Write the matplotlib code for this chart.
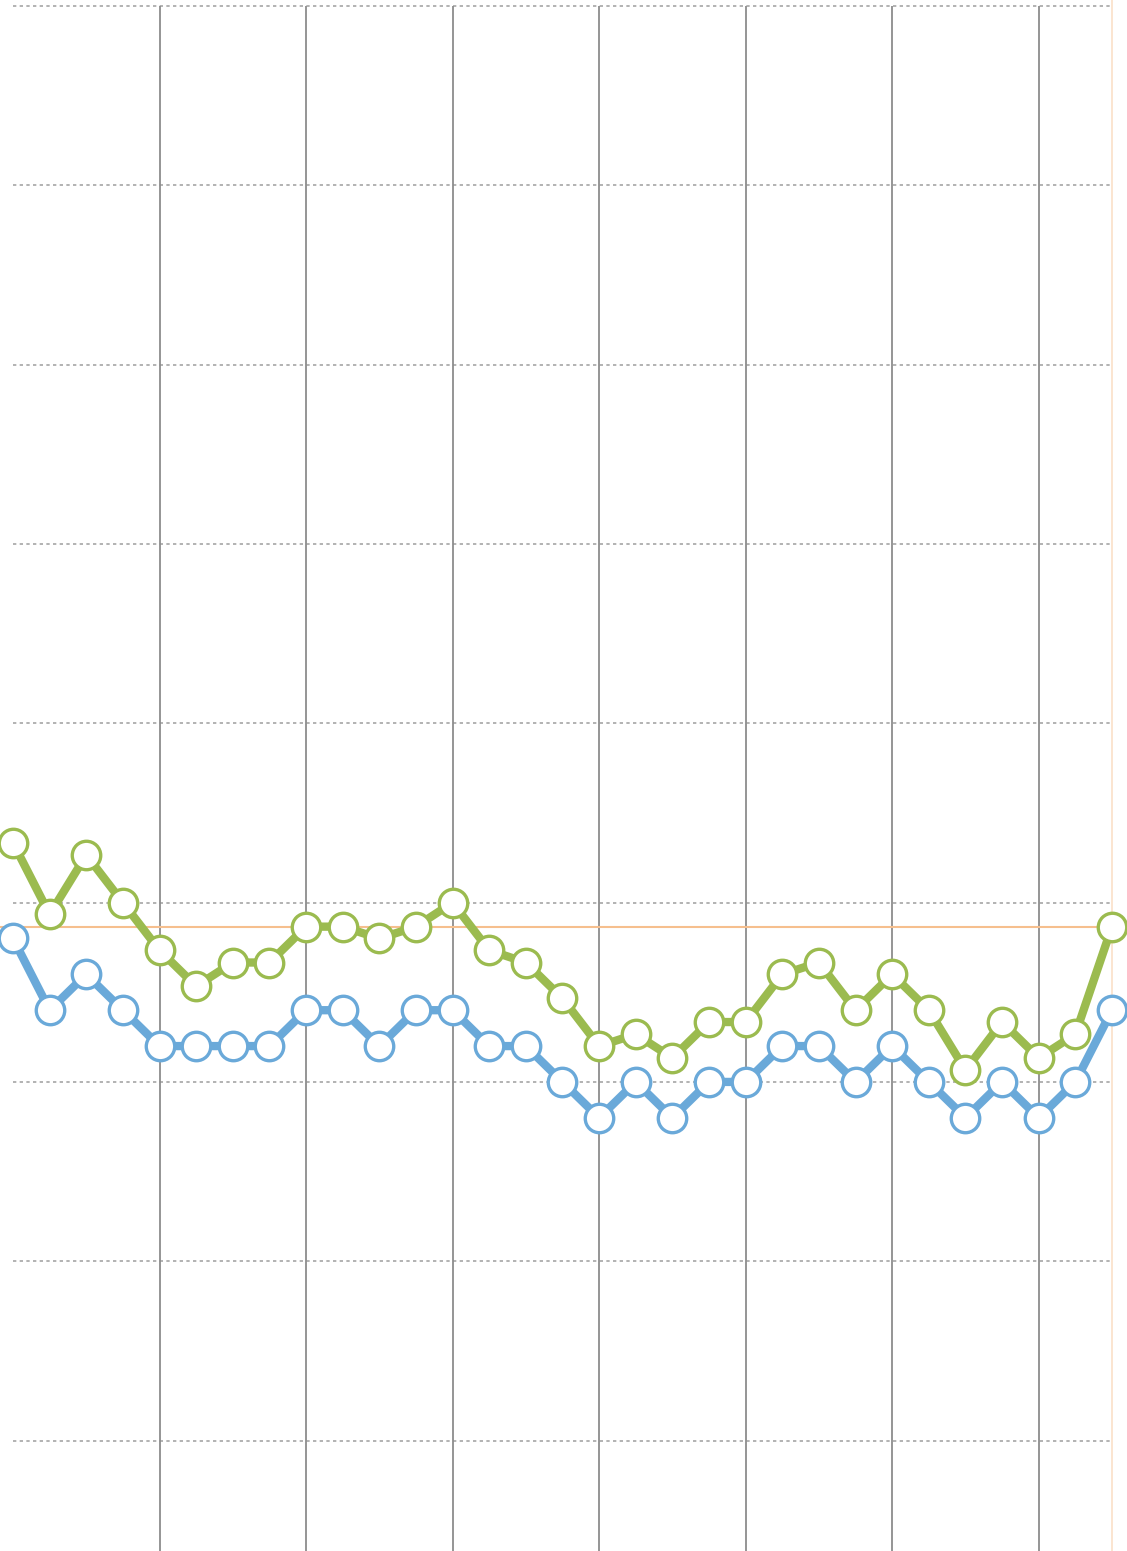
import numpy as np
import matplotlib
matplotlib.use('Agg')
import matplotlib.pyplot as plt

# series values, one point per period
periods = list(range(31))
blue_values = [14, 12, 13, 12, 11, 11, 11, 11, 12, 12, 11, 12, 12, 11, 11, 10,
               9, 10, 9, 10, 10, 11, 11, 10, 11, 10, 9, 10, 9, 10, 12]
green_values = [16.67, 14.67, 16.33, 15, 13.67, 12.67, 13.33, 13.33, 14.33, 14.33,
                14, 14.33, 15, 13.67, 13.33, 12.33, 11, 11.33, 10.67, 11.67,
                11.67, 13, 13.33, 12, 13, 12, 10.33, 11.67, 10.67, 11.33, 14.33]
grid_levels = [0, 5, 10, 15, 20, 25, 30, 35, 40]
group_marks = [4, 8, 12, 16, 20, 24, 28]
reference_level = 14.33
reference_period = 30

fig = plt.figure(figsize=(11.27, 15.51), dpi=100)
ax = fig.add_axes([0, 0, 1, 1])

# dotted horizontal grid
ax.hlines(grid_levels, 0, 30, colors='#a6a6a6', linestyles=(0, (2, 2)),
          linewidth=1.2, zorder=1)
# solid vertical separators
ax.vlines(group_marks, -5, 40, colors='#8c8c8c', linewidth=1.3, zorder=1)

# orange reference lines
ax.axhline(reference_level, xmin=0, xmax=(30 + 0.355) / 30.765,
           color='#f6bf8e', linewidth=1.5, zorder=2)
ax.axvline(reference_period, color='#fbe0c8', linewidth=1.2, zorder=2)

marker_style = dict(marker='o', markersize=20.5, markerfacecolor='white',
                    markeredgewidth=2.4, linewidth=6)
ax.plot(periods, blue_values, color='#6aa9d9', markeredgecolor='#6aa9d9',
        zorder=3, **marker_style)
ax.plot(periods, green_values, color='#9bbb4f', markeredgecolor='#9bbb4f',
        zorder=4, **marker_style)

ax.set_xlim(-0.355, 30.41)
ax.set_ylim(-3.08, 40.17)
ax.axis('off')

fig.savefig('out.png', dpi=100, facecolor='white')
